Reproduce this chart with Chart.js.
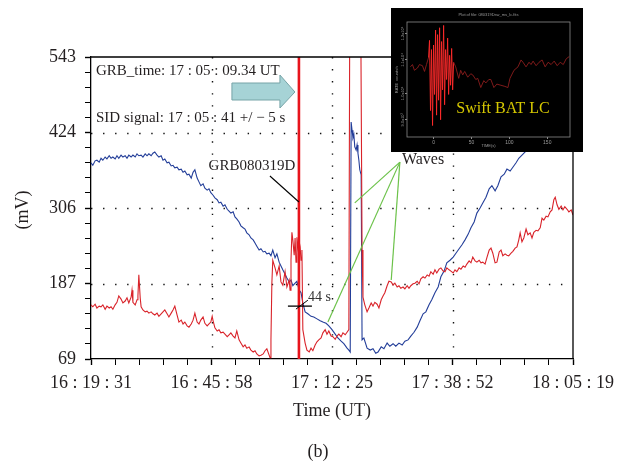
<!DOCTYPE html>
<html><head><meta charset="utf-8">
<script src="https://cdn.jsdelivr.net/npm/chart.js@4.4.1/dist/chart.umd.min.js"></script>
<style>
html,body{margin:0;padding:0;background:#fff;}
#wrap{position:relative;width:637px;height:470px;overflow:hidden;}
#main{position:absolute;left:0;top:0;width:637px;height:470px;}
#inset{position:absolute;left:391px;top:8px;width:192px;height:144px;}
</style></head><body>
<div id="wrap"><canvas id="main" width="637" height="470"></canvas><canvas id="inset" width="192" height="144"></canvas></div>
<script>
// ---- axis ticks (minutes after 16:19:31 UT) ----
const xMajorVals = [0, 26.45, 52.9, 79.35, 105.8];
const xTickLabels = ['16 : 19 : 31', '16 : 45 : 58', '17 : 12 : 25', '17 : 38 : 52', '18 : 05 : 19'];
const yMajorVals = [69, 187.5, 306, 424.5, 543];
const yTickLabels = ['69', '187', '306', '424', '543'];
const grbTime = 45.64; // 17:05:09.34 UT

// ---- blue series (time in minutes, mV) ----
const blueT = [0.0,0.4,0.9,1.3,1.8,2.2,2.6,3.1,3.5,4.0,4.4,4.8,5.3,5.7,6.1,6.6,7.0,7.5,7.9,8.3,8.8,9.2,9.7,10.1,10.5,11.0,11.4,11.9,12.3,12.7,13.2,13.6,14.0,14.5,14.9,15.4,15.8,16.2,16.7,17.1,17.6,18.0,18.4,18.9,19.3,19.8,20.2,20.6,21.1,21.5,22.0,22.4,22.8,23.3,23.7,24.1,24.6,25.0,25.5,25.9,26.3,26.8,27.2,27.7,28.1,28.5,29.0,29.4,29.9,30.3,30.7,31.2,31.6,32.0,32.5,32.9,33.4,33.8,34.2,34.7,35.1,35.6,36.0,36.4,36.9,37.3,37.8,38.2,38.6,39.1,39.5,39.9,40.4,40.8,41.3,41.7,42.1,42.6,43.0,43.5,43.9,44.3,44.8,45.2,45.7,46.1,46.5,47.0,47.6,48.3,48.9,49.6,50.3,50.9,51.6,52.2,52.9,53.6,54.2,54.9,55.5,56.2,56.6,56.9,57.1,57.3,57.5,57.7,57.9,58.2,58.4,58.6,58.8,59.0,59.3,59.5,59.9,60.6,61.3,61.9,62.5,63.0,63.7,64.3,65.0,65.6,66.3,66.9,67.6,68.3,68.9,69.6,70.2,70.9,71.6,72.2,72.9,73.5,74.2,74.8,75.5,76.2,76.8,77.5,78.1,78.8,79.5,80.1,80.8,81.4,82.1,82.8,83.4,84.1,84.7,85.4,86.0,86.7,87.4,88.0,88.7,89.3,90.0,90.7,91.3,92.0,92.6,93.3,93.9,94.6,95.3,96.4,98.6,100.8,102.9,105.8];
const blueV = [377,373,380,381,378,384,381,386,383,388,384,386,383,388,384,389,386,388,384,389,386,389,386,391,388,389,386,391,388,391,388,392,394,389,386,388,381,383,377,378,372,373,369,370,366,367,362,364,358,359,353,362,366,353,347,341,344,337,334,336,330,326,322,319,314,315,309,311,304,301,298,300,292,289,284,278,275,273,267,264,259,256,251,246,240,242,237,238,234,235,231,240,228,234,221,215,209,202,196,190,193,184,188,191,177,173,157,143,140,136,135,132,129,127,125,121,115,108,102,97,93,86,83,80,441,428,416,421,402,397,405,392,381,366,358,99,102,86,83,85,78,80,88,85,94,89,93,89,94,91,97,99,105,111,119,129,140,143,154,162,173,182,198,207,220,224,229,235,242,248,256,265,275,284,298,306,314,323,336,341,333,341,355,359,367,364,370,377,384,389,394,405,428,452,475,499];

// ---- red series (time in minutes, mV) ----
const redT = [0.0,0.4,0.9,1.3,1.8,2.2,2.6,3.1,3.5,4.0,4.4,4.8,5.3,5.7,6.1,6.6,7.0,7.5,7.9,8.3,8.8,9.0,9.2,9.7,10.1,10.3,10.5,10.8,11.0,11.4,11.9,12.3,12.7,13.2,13.6,14.0,14.5,14.9,15.4,15.8,16.2,16.7,17.1,17.6,18.0,18.4,18.9,19.3,19.8,20.2,20.6,21.1,21.5,22.0,22.4,22.8,23.3,23.7,24.1,24.6,25.0,25.5,25.9,26.3,26.6,26.8,27.2,27.7,28.1,28.5,29.0,29.4,29.9,30.3,30.7,31.2,31.6,32.0,32.5,32.9,33.4,33.8,34.2,34.7,35.1,35.6,36.0,36.4,36.9,37.3,37.8,38.2,38.6,39.1,39.3,39.5,39.7,39.9,40.4,40.8,41.3,41.7,42.1,42.6,43.0,43.5,43.7,43.9,44.1,44.3,44.6,44.8,45.0,45.2,45.5,45.7,45.9,46.1,46.3,46.5,47.0,47.4,47.9,48.3,48.7,49.2,49.6,50.0,50.5,50.9,51.4,51.8,52.2,52.7,53.1,53.6,54.0,54.4,54.9,55.3,55.8,56.2,56.6,56.8,57.9,59.2,59.5,59.7,60.1,60.6,61.0,61.5,61.9,62.3,62.8,63.2,63.7,64.1,64.5,65.0,65.4,65.9,66.3,66.7,67.2,67.6,68.0,68.5,68.9,69.4,69.8,70.2,70.7,71.1,71.6,72.0,72.4,72.9,73.3,73.8,74.2,74.6,75.1,75.5,75.9,76.4,76.8,77.3,77.7,78.1,78.6,79.0,79.5,79.9,80.3,80.8,81.2,81.7,82.1,82.5,83.0,83.4,83.8,84.3,84.7,85.2,85.6,86.0,86.5,86.9,87.4,87.8,88.2,88.7,89.1,89.6,90.0,90.4,90.9,91.3,91.7,92.2,92.6,93.1,93.5,93.9,94.2,94.6,95.0,95.5,95.9,96.4,96.8,97.2,97.7,98.1,98.6,99.0,99.4,99.9,100.3,100.8,101.2,101.6,101.9,102.3,102.7,103.2,103.6,104.0,104.5,104.9,105.4,105.8];
const redV = [154,151,155,149,152,151,154,147,152,149,151,147,154,158,168,163,157,160,165,157,166,177,158,154,162,168,201,165,151,146,143,144,141,143,140,138,141,136,140,143,146,140,135,141,146,152,138,127,130,124,127,121,119,124,130,141,127,124,130,135,125,121,124,127,136,129,118,113,115,110,111,108,104,107,110,105,102,113,99,94,88,91,86,88,83,80,82,77,74,75,77,82,85,75,71,99,188,224,212,201,215,190,185,206,182,193,177,224,268,256,232,259,221,260,240,253,245,224,240,115,94,83,80,86,82,91,96,99,102,110,115,108,113,105,104,100,105,108,104,110,107,111,115,620,620,620,240,166,154,143,149,157,152,158,155,149,162,168,173,184,191,190,185,188,182,184,180,182,179,184,180,184,187,188,191,187,195,198,196,201,199,206,202,209,204,210,212,207,206,212,209,207,204,209,206,212,210,215,213,218,223,220,229,223,221,224,220,221,218,228,240,243,235,220,221,237,240,231,234,232,231,235,238,243,245,256,267,253,259,273,264,267,259,268,271,270,275,290,287,293,292,300,303,319,323,311,304,309,303,308,304,300,303,295];

// ---- inset: Swift BAT light curve (time s, rate in arbitrary units) ----
const insetT = [-30.5,-27.8,-25.2,-21.2,-18.6,-14.6,-11.9,-9.3,-6.6,-5.3,-4.0,-2.7,-1.3,0,1.3,2.7,4.0,5.3,6.6,8.0,9.3,10.6,11.9,13.3,14.6,15.9,17.2,18.6,19.9,21.2,22.5,23.9,25.2,26.5,29.2,33.2,35.8,38.5,41.1,45.1,49.1,51.7,55.7,58.3,62.3,66.3,69.0,72.9,75.6,79.6,83.5,88.8,94.1,98.1,100.8,106.1,111.4,115.4,118.0,122.0,126.0,128.6,131.3,135.3,139.2,143.2,147.2,151.2,155.1,159.1,163.1,167.1,171.1,175.0,179.0];
const insetRate = [61,63,58,60,63,62,57,63,69,84,23,76,10,80,37,93,19,89,32,95,15,83,41,97,28,76,50,86,37,71,45,77,41,65,61,51,58,54,57,52,55,54,50,51,43,49,47,50,50,43,46,45,44,43,51,58,61,67,65,61,65,63,66,62,65,67,61,65,63,66,62,65,63,68,70];
const insetXTicks = [0, 50, 100, 150];
const insetYTickLabels = ['1.2x10\u2074', '1.1x10\u2074', '1.0x10\u2074', '9.0x10\u00b3'];

const SERIF = '"Liberation Serif", "Times New Roman", serif';
const TXT = '#231f20';

function withMinors(majors) {
  const out = [];
  for (let i = 0; i < majors.length - 1; i++) {
    const s = (majors[i + 1] - majors[i]) / 5;
    for (let j = 0; j < 5; j++) out.push({ value: majors[i] + j * s });
  }
  out.push({ value: majors[majors.length - 1] });
  return out;
}

const framePlugin = {
  id: 'frame',
  beforeDraw(chart) {
    const c = chart.ctx;
    c.save(); c.fillStyle = '#fff'; c.fillRect(0, 0, chart.width, chart.height); c.restore();
  },
  beforeDatasetsDraw(chart) {
    const c = chart.ctx, a = chart.chartArea, xs = chart.scales.x, ys = chart.scales.y;
    c.save();
    c.strokeStyle = '#111'; c.lineWidth = 1.4; c.setLineDash([1.4, 10.65]);
    for (let i = 1; i < xMajorVals.length - 1; i++) {
      const px = Math.round(xs.getPixelForValue(xMajorVals[i])) + 0.5;
      c.beginPath(); c.moveTo(px, a.top); c.lineTo(px, a.bottom); c.stroke();
    }
    for (let i = 1; i < yMajorVals.length - 1; i++) {
      const py = Math.round(ys.getPixelForValue(yMajorVals[i])) + 0.5;
      c.beginPath(); c.moveTo(a.left, py); c.lineTo(a.right, py); c.stroke();
    }
    c.restore();
  },
  afterDatasetsDraw(chart) {
    const c = chart.ctx, a = chart.chartArea, xs = chart.scales.x, ys = chart.scales.y;
    c.save();
    // GRB vertical line
    const gx = xs.getPixelForValue(grbTime);
    c.strokeStyle = '#e8141c'; c.lineWidth = 2.6;
    c.beginPath(); c.moveTo(gx, a.top); c.lineTo(gx, a.bottom); c.stroke();
    // frame top & right
    c.strokeStyle = '#000'; c.lineWidth = 1.3;
    c.beginPath(); c.moveTo(a.left, a.top); c.lineTo(a.right, a.top); c.lineTo(a.right, a.bottom); c.stroke();
    // arrow
    c.fillStyle = '#a6d3d6'; c.strokeStyle = '#76a4a7'; c.lineWidth = 1;
    const tip = gx - 4;
    c.beginPath();
    c.moveTo(tip - 63, 83); c.lineTo(tip - 15, 83); c.lineTo(tip - 15, 75); c.lineTo(tip, 92);
    c.lineTo(tip - 15, 108); c.lineTo(tip - 15, 100); c.lineTo(tip - 63, 100); c.closePath();
    c.fill(); c.stroke();
    // texts
    c.fillStyle = TXT; c.textBaseline = 'middle'; c.textAlign = 'left';
    c.font = '15px ' + SERIF;
    c.fillText('GRB_time: 17 : 05 : 09.34 UT', a.left + 5, 71);
    c.fillText('SID signal: 17 : 05 : 41 +/ \u2212 5 s', a.left + 5, 118);
    c.textAlign = 'center';
    c.fillText('GRB080319D', gx - 47, 166);
    c.strokeStyle = '#000'; c.lineWidth = 1.1;
    c.beginPath(); c.moveTo(gx - 29, 176); c.lineTo(gx, 202); c.stroke();
    // 44 s marker
    const my = ys.getPixelForValue(152);
    c.lineWidth = 1.3;
    c.beginPath(); c.moveTo(gx - 11, my); c.lineTo(gx + 13, my); c.stroke();
    c.lineWidth = 1;
    c.beginPath(); c.moveTo(gx - 3, my + 3); c.lineTo(gx + 9, my - 6); c.stroke();
    c.textAlign = 'left'; c.font = '14px ' + SERIF; c.fillStyle = '#333';
    c.fillText('44 s', gx + 9, my - 9);
    // waves annotation
    const wx = xs.getPixelForValue(67.8), wy = ys.getPixelForValue(378);
    c.strokeStyle = '#6cc24a'; c.lineWidth = 1.2;
    [[57.9, 314], [52.0, 127], [65.9, 193]].forEach(p => {
      c.beginPath(); c.moveTo(wx, wy); c.lineTo(xs.getPixelForValue(p[0]), ys.getPixelForValue(p[1])); c.stroke();
    });
    c.fillStyle = TXT; c.font = '16px ' + SERIF;
    c.fillText('Waves', wx + 2, wy - 2);
    // axis titles
    c.textAlign = 'center'; c.font = '18px ' + SERIF; c.fillStyle = TXT;
    c.fillText('Time (UT)', (a.left + a.right) / 2, 411);
    c.fillText('(b)', 318, 452);
    c.translate(23, 210); c.rotate(-Math.PI / 2);
    c.fillText('(mV)', 0, 0);
    c.restore();
  }
};

new Chart(document.getElementById('main'), {
  type: 'line',
  data: {
    datasets: [
      { label: 'red', data: redT.map((t, i) => ({ x: t, y: redV[i] })), borderColor: '#d9232a', borderWidth: 1.1, pointRadius: 0, tension: 0 },
      { label: 'blue', data: blueT.map((t, i) => ({ x: t, y: blueV[i] })), borderColor: '#233e99', borderWidth: 1.1, pointRadius: 0, tension: 0 }
    ]
  },
  options: {
    responsive: false, animation: false, devicePixelRatio: 1,
    layout: { padding: { top: 57, right: 64, left: 0, bottom: 0 } },
    plugins: { legend: { display: false }, tooltip: { enabled: false } },
    scales: {
      x: {
        type: 'linear', min: xMajorVals[0], max: xMajorVals[xMajorVals.length - 1],
        afterBuildTicks: s => { s.ticks = withMinors(xMajorVals); },
        afterFit: s => { s.height = 111; },
        ticks: { autoSkip: false, maxRotation: 0, minRotation: 0, padding: 7, color: TXT,
          font: { family: SERIF, size: 18 },
          callback: (v, i) => (i % 5 === 0 ? xTickLabels[i / 5] : '') },
        grid: { drawOnChartArea: false, drawTicks: true, tickLength: 6, color: '#000', tickColor: '#000',
          tickWidth: c => (c.index % 5 === 0 ? 1.4 : 1) },
        border: { display: true, color: '#000', width: 1.3 }
      },
      y: {
        type: 'linear', min: yMajorVals[0], max: yMajorVals[yMajorVals.length - 1],
        afterBuildTicks: s => { s.ticks = withMinors(yMajorVals); },
        afterFit: s => { s.width = 91; },
        ticks: { autoSkip: false, padding: 9, color: TXT, font: { family: SERIF, size: 18 },
          callback: (v, i) => (i % 5 === 0 ? yTickLabels[i / 5] : '') },
        grid: { drawOnChartArea: false, drawTicks: true, tickLength: 6, color: '#000', tickColor: '#000',
          tickWidth: c => (c.index % 5 === 0 ? 1.4 : 1) },
        border: { display: true, color: '#000', width: 1.3 }
      }
    }
  },
  plugins: [framePlugin]
});

// ---- inset chart ----
const insetPlugin = {
  id: 'insetFrame',
  beforeDraw(chart) {
    const c = chart.ctx;
    c.save(); c.fillStyle = '#000'; c.fillRect(0, 0, chart.width, chart.height); c.restore();
  },
  afterDraw(chart) {
    const c = chart.ctx, a = chart.chartArea, ys = chart.scales.y;
    c.save();
    c.strokeStyle = '#8a8a8a'; c.lineWidth = 0.8;
    c.strokeRect(a.left, a.top, a.right - a.left, a.bottom - a.top);
    c.fillStyle = '#9a9a9a'; c.font = '4px sans-serif'; c.textAlign = 'center'; c.textBaseline = 'middle';
    c.fillText('Plot of file: 080319Dsw_ms_lc.fits', (a.left + a.right) / 2, 7);
    c.fillText('TIME(s)', (a.left + a.right) / 2, 138);
    [90, 67, 38, 15].forEach((v, i) => {
      c.save(); c.translate(a.left - 4, ys.getPixelForValue(v)); c.rotate(-Math.PI / 2);
      c.fillText(insetYTickLabels[i], 0, 0); c.restore();
    });
    c.save(); c.translate(a.left - 10, (a.top + a.bottom) / 2); c.rotate(-Math.PI / 2);
    c.fillText('RATE  counts/s', 0, 0); c.restore();
    c.fillStyle = '#d6c800'; c.font = '16px ' + SERIF;
    c.fillText('Swift BAT LC', 112, 101);
    c.restore();
  }
};

new Chart(document.getElementById('inset'), {
  type: 'line',
  data: {
    datasets: [{
      data: insetT.map((t, i) => ({ x: t, y: insetRate[i] })),
      borderColor: '#8c1d1d', borderWidth: 0.9, pointRadius: 0, tension: 0,
      segment: { borderColor: s => (s.p0.parsed.x > -8 && s.p1.parsed.x < 28 ? '#ff2a2a' : '#8c1d1d') }
    }]
  },
  options: {
    responsive: false, animation: false, devicePixelRatio: 1,
    layout: { padding: { top: 14, right: 13, left: 0, bottom: 0 } },
    plugins: { legend: { display: false }, tooltip: { enabled: false } },
    scales: {
      x: {
        type: 'linear', min: -35, max: 180,
        afterBuildTicks: s => { s.ticks = insetXTicks.map(v => ({ value: v })); },
        afterFit: s => { s.height = 15; },
        ticks: { autoSkip: false, maxRotation: 0, padding: 1, color: '#9a9a9a', font: { size: 5 } },
        grid: { drawOnChartArea: false, tickLength: 2, color: '#8a8a8a' },
        border: { display: false }
      },
      y: {
        type: 'linear', min: 0, max: 100,
        afterBuildTicks: s => { s.ticks = [15, 38, 67, 90].map(v => ({ value: v })); },
        afterFit: s => { s.width = 16; },
        ticks: { display: false },
        grid: { drawOnChartArea: false, tickLength: 2, color: '#8a8a8a' },
        border: { display: false }
      }
    }
  },
  plugins: [insetPlugin]
});
</script>
</body></html>
